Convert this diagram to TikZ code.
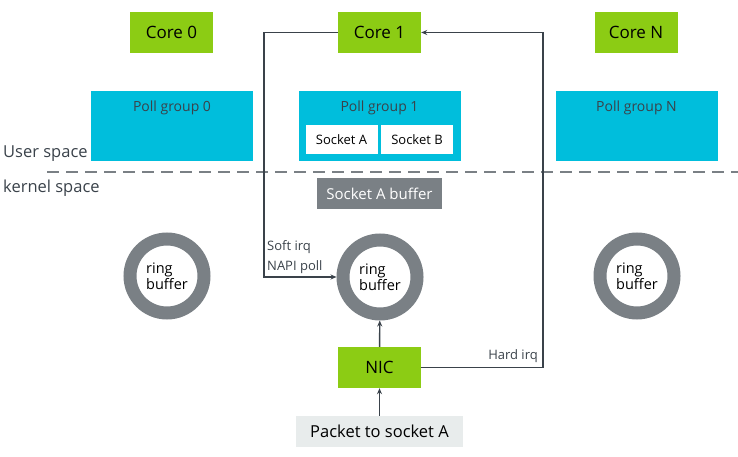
\documentclass[tikz,border=0pt]{standalone}
\usepackage{fontspec}
\setmainfont{Open Sans}
\usetikzlibrary{arrows.meta}
\definecolor{coregreen}{RGB}{140,204,20}
\definecolor{pollcyan}{RGB}{0,190,220}
\definecolor{ringgray}{RGB}{122,128,133}
\definecolor{linegray}{RGB}{58,66,74}
\definecolor{packetgray}{RGB}{232,236,236}
\tikzset{
	core/.style={fill=coregreen, minimum width=83pt, minimum height=41pt, inner sep=0pt, font=\fontsize{17}{19}\selectfont},
	pollgroup/.style={fill=pollcyan, minimum width=162pt, minimum height=70pt, inner sep=0pt},
	socketbox/.style={fill=white, minimum width=72pt, minimum height=29pt, inner sep=0pt, font=\fontsize{13}{15}\selectfont},
	ring/.style={circle, draw=ringgray, line width=13pt, minimum size=74pt, inner sep=0pt, align=left, font=\fontsize{14.5}{16}\selectfont},
	conn/.style={draw=linegray, line width=1.4pt},
	label/.style={font=\fontsize{13}{15}\selectfont, text=linegray, inner sep=1pt}
}
\begin{document}
\begin{tikzpicture}[x=1pt, y=-1pt]
		%%%%% START %%%%%
		\useasboundingbox (0, 0) rectangle (738, 457);
		
		\node[core] (core0) at (171.5, 32.5) {Core 0};
		\node[core] (core1) at (379.5, 32.5) {Core 1};
		\node[core] (coreN) at (636, 32.5) {Core N};
		
		\node[pollgroup] (poll0) at (172, 126) {};
		\node[pollgroup] (poll1) at (379.5, 126) {};
		\node[pollgroup] (pollN) at (636.5, 126) {};
		\node[font=\fontsize{14}{16}\selectfont, text=linegray] (poll0text) at (172, 108) {Poll group 0};
		\node[font=\fontsize{14}{16}\selectfont, text=linegray] (poll1text) at (379.5, 108) {Poll group 1};
		\node[font=\fontsize{14}{16}\selectfont, text=linegray] (pollNtext) at (636.5, 108) {Poll group N};
		\node[socketbox] (sockA) at (341.5, 139.5) {Socket A};
		\node[socketbox] (sockB) at (417, 139.5) {Socket B};
		
		\node[anchor=west, font=\fontsize{16.5}{18}\selectfont, text=linegray, inner sep=0pt] (user) at (3, 154) {User space};
		\node[anchor=west, font=\fontsize{16.5}{18}\selectfont, text=linegray, inner sep=0pt] (kernel) at (3, 188) {kernel space};
		\draw[ringgray, line width=2pt, dash pattern=on 12pt off 7pt] (47, 172) -- (738, 172);
		
		\node[fill=ringgray, text=white, minimum width=125pt, minimum height=31pt, inner sep=0pt, font=\fontsize{15}{17}\selectfont] (sockbuf) at (379.5, 193.5) {Socket A buffer};
		
		\node[ring] (ring0) at (167, 276) {ring\\buffer};
		\node[ring] (ring1) at (380, 277) {ring\\buffer};
		\node[ring] (ringN) at (637, 276) {ring\\buffer};
		
		\node[core] (nic) at (379.5, 367.5) {NIC};
		\node[fill=packetgray, minimum width=167pt, minimum height=31pt, inner sep=0pt, font=\fontsize{16.5}{18}\selectfont] (packet) at (379.5, 431.5) {Packet to socket A};
		
		\coordinate (softx) at (264, 0);
		\coordinate (hardx) at (543, 0);
		
		\draw[conn, -{Stealth[length=6pt, width=5pt]}] (packet) -- (nic);
		\draw[conn, -{Stealth[length=6pt, width=5pt]}] (nic) -- (ring1);
		\draw[conn, -{Stealth[length=6pt, width=5pt]}] (core1.west) -- (core1.west -| softx) -- (ring1.west -| softx) -- (ring1.west);
		\draw[conn, -{Stealth[length=6pt, width=5pt]}] (nic.east) -- (nic.east -| hardx) -- (core1.east -| hardx) -- (core1.east);
		
		\node[label, anchor=west] (softirq) at (266, 247) {Soft irq};
		\node[label, anchor=west] (napi) at (266, 267) {NAPI poll};
		\node[label, anchor=east] (hardirq) at (539, 356) {Hard irq};
		%%%%% END %%%%%
	\end{tikzpicture}
\end{document}
